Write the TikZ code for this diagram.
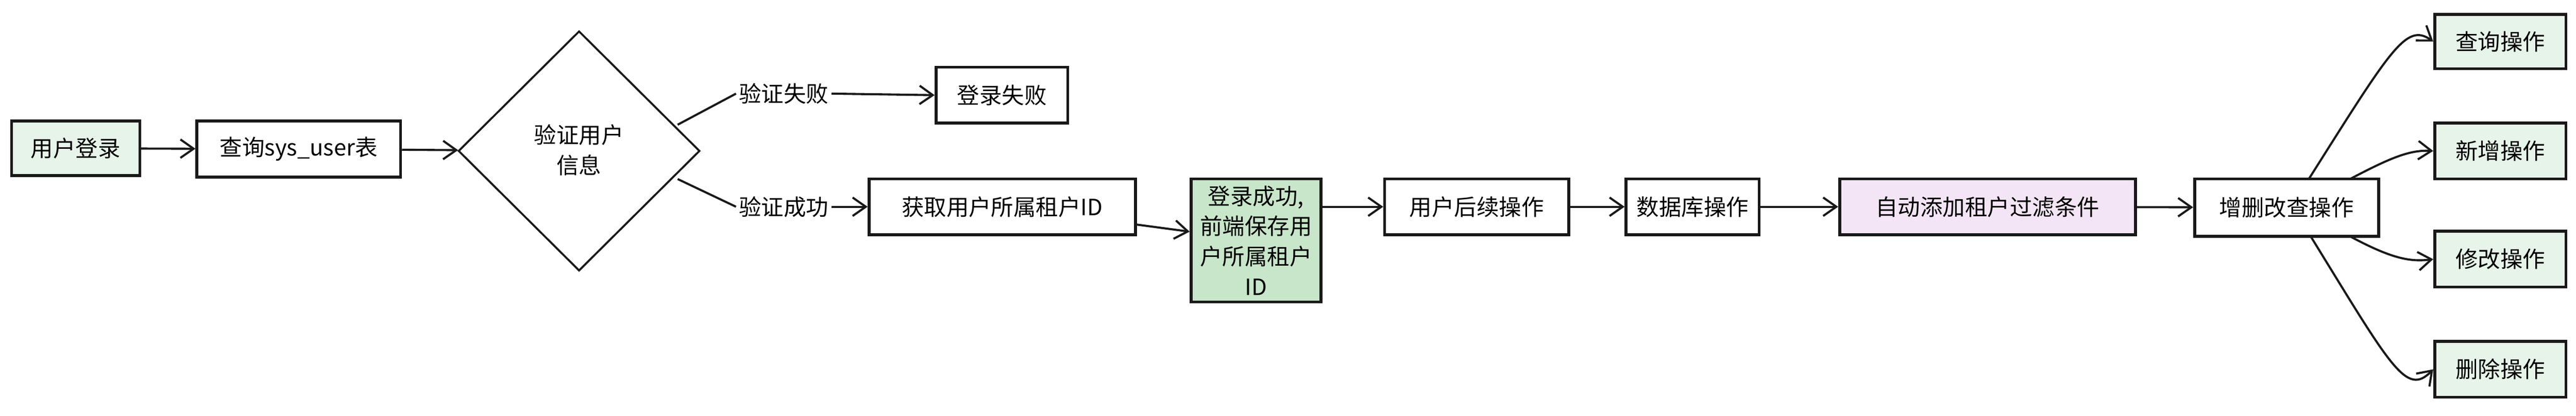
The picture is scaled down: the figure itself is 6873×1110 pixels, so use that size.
\documentclass[tikz,border=0pt]{standalone}
\usepackage{fontspec}
\newfontfamily\cjk{Noto Sans CJK SC}
\usetikzlibrary{arrows.meta,shapes.geometric}
\definecolor{lg}{HTML}{E6F4EA}
\definecolor{mg}{HTML}{C8E6C9}
\definecolor{lp}{HTML}{F3E5F5}
\tikzset{
  box/.style={draw=black!90,line width=2.2pt,inner sep=0pt,align=center,font=\cjk\fontsize{17}{23}\selectfont},
  conn/.style={draw=black!90,line width=1.6pt,-{Straight Barb[length=10pt,width=14pt,line width=1.6pt]}},
  lbl/.style={font=\cjk\fontsize{17}{23}\selectfont,fill=white,inner sep=2pt}
}
\begin{document}
\begin{tikzpicture}[x=0.01cm,y=-0.01cm]
\useasboundingbox (0,0) rectangle (6873,1110);
\newcommand{\bx}[6]{\node[box,fill=#6,minimum width=#4*0.01cm - 2.2pt,minimum height=#5*0.01cm - 2.2pt] (#1) at (#2,#3) {#6text};}
\node[box,fill=lg,minimum width=3.42cm,minimum height=1.45cm] (login) at (202,396) {用户登录};
\node[box,fill=white,minimum width=5.43cm,minimum height=1.49cm] (query) at (797,398) {查询sys\_user表};
\node[box,diamond,aspect=1,fill=white,minimum width=6.44cm,minimum height=6.4cm,line width=1.5pt] (dec) at (1545,403) {};
\node[font=\cjk\fontsize{17}{23}\selectfont,align=center] at (1545,400) {验证用户\\信息};
\node[box,fill=white,minimum width=3.51cm,minimum height=1.49cm] (fail) at (2673,254) {登录失败};
\node[box,fill=white,minimum width=7.1cm,minimum height=1.49cm] (tid) at (2674,552) {获取用户所属租户ID};
\node[box,fill=mg,minimum width=3.46cm,minimum height=3.28cm] (ok) at (3351,642) {登录成功,\\前端保存用\\户所属租户\\ID};
\node[box,fill=white,minimum width=4.91cm,minimum height=1.49cm] (next) at (3940,552) {用户后续操作};
\node[box,fill=white,minimum width=3.55cm,minimum height=1.49cm] (db) at (4516,552) {数据库操作};
\node[box,fill=lp,minimum width=7.89cm,minimum height=1.49cm] (auto) at (5303,552) {自动添加租户过滤条件};
\node[box,fill=white,minimum width=4.91cm,minimum height=1.53cm] (crud) at (6101,554) {增删改查操作};
\node[box,fill=lg,minimum width=3.5cm,minimum height=1.45cm] (q) at (6671,111) {查询操作};
\node[box,fill=lg,minimum width=3.5cm,minimum height=1.49cm] (a) at (6671,403) {新增操作};
\node[box,fill=lg,minimum width=3.5cm,minimum height=1.49cm] (m) at (6671,692) {修改操作};
\node[box,fill=lg,minimum width=3.5cm,minimum height=1.49cm] (d) at (6671,986) {删除操作};
\draw[conn] (login) -- (query);
\draw[conn] (query) -- (dec);
\node[lbl] (lf) at (2091,250) {验证失败};
\node[lbl] (ls) at (2091,552) {验证成功};
\draw[line width=1.6pt,black!90] (1808,333) -- (lf.west);
\draw[conn] (lf.east) -- (fail.west);
\draw[line width=1.6pt,black!90] (1808,478) -- (ls.west);
\draw[conn] (ls.east) -- (tid.west);
\draw[conn] (tid) -- (ok);
\draw[conn] (ok.east|-next) -- (next);
\draw[conn] (next) -- (db);
\draw[conn] (db) -- (auto);
\draw[conn] (auto) -- (crud);
\draw[conn] (6160,478) .. controls (6380,130) and (6420,60) .. (q.west);
\draw[conn] (6270,478) .. controls (6380,420) and (6430,400) .. (a.west);
\draw[conn] (6270,631) .. controls (6380,690) and (6430,700) .. (m.west);
\draw[conn] (6165,631) .. controls (6380,980) and (6420,1060) .. (d.west);
\end{tikzpicture}
\end{document}
